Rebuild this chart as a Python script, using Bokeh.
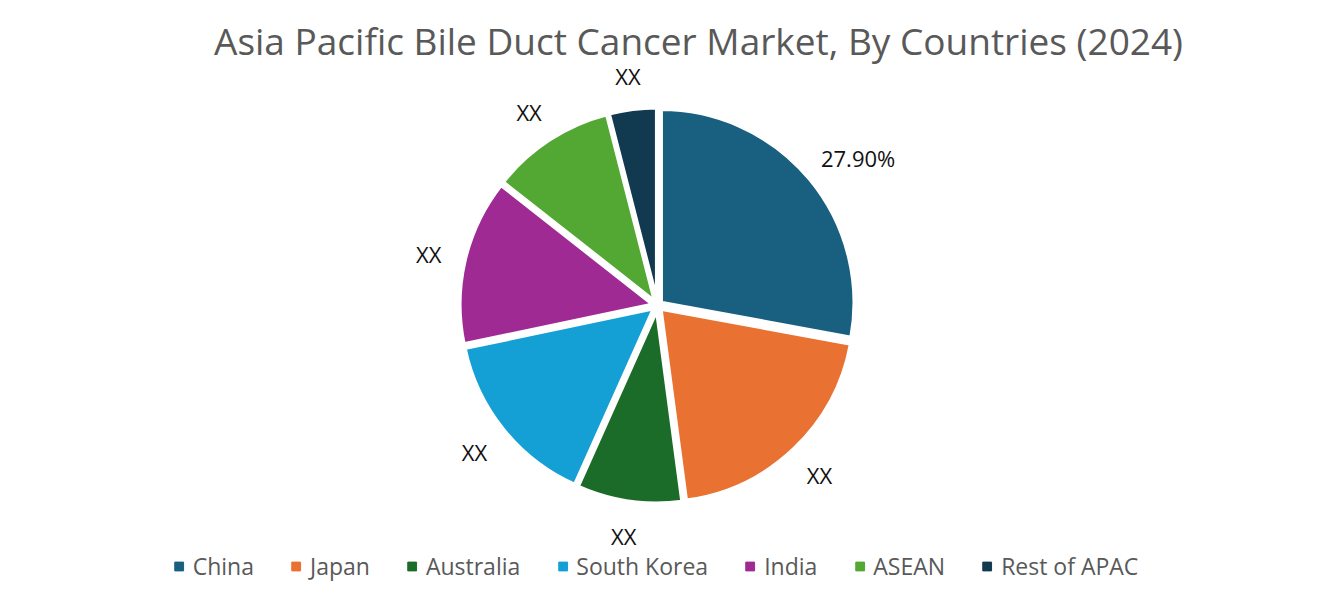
import numpy as np
from bokeh.plotting import figure
from bokeh.models import Legend, LegendItem, ColumnDataSource
from bokeh.core.properties import value
from bokeh.embed import file_html
from bokeh.resources import INLINE

# ---- data ----
title_text = "Asia Pacific Bile Duct Cancer Market, By Countries (2024)"
countries = ["China", "Japan", "Australia", "South Korea", "India", "ASEAN", "Rest of APAC"]
shares = [27.9, 20.0, 8.8, 15.0, 13.9, 10.4, 4.0]
labels = ["27.90%", "XX", "XX", "XX", "XX", "XX", "XX"]
colors = ["#195F80", "#E97132", "#1B6C28", "#149FD5", "#9F2A94", "#53A834", "#113A51"]

FONT = "Open Sans"
W, H = 1306, 584
CX, CY = 657, 279          # pie centre (data units = pixels)
R = 193.5                  # wedge radius
EXPLODE = 4.5
LAB_R = 222

p = figure(width=W, height=H, x_range=(0, W), y_range=(0, H),
           output_backend="svg", toolbar_location=None, min_border=0,
           x_axis_type=None, y_axis_type=None)
p.grid.visible = False
p.outline_line_color = None

vals = np.array(shares, dtype=float)
ang = vals / vals.sum() * 2 * np.pi
ends = np.pi / 2 - np.cumsum(ang)
starts = ends + ang
mid = (starts + ends) / 2

src = ColumnDataSource(dict(
    x=CX + EXPLODE * np.cos(mid),
    y=CY + EXPLODE * np.sin(mid),
    s=ends, e=starts, color=colors,
))
p.wedge(x="x", y="y", radius=R, start_angle="s", end_angle="e", source=src,
        fill_color="color", line_color="white", line_width=4)

# data labels (outside end)
hw = np.array([len(t) * 6.5 for t in labels])
hh = 10
lx = CX + LAB_R * np.cos(mid) + hw * np.cos(mid)
ly = CY + LAB_R * np.sin(mid) + hh * np.sin(mid) - 1
p.text(x=lx, y=ly, text=labels, text_align="center", text_baseline="middle",
       text_font=value(FONT), text_font_size="22px", text_color="#111111")

# title
p.text(x=[698], y=[H - 40], text=[title_text], text_align="center",
       text_baseline="middle", text_font=value(FONT), text_font_size="37px",
       text_color="#595959")

# legend
items = []
for name, c in zip(countries, colors):
    r = p.scatter(x=[-500], y=[-500], marker="square", size=9, fill_color=c, line_color=c)
    items.append(LegendItem(label=name, renderers=[r]))
legend = Legend(items=items, orientation="horizontal", location="bottom_center",
                glyph_width=22, glyph_height=22, label_standoff=3, spacing=31,
                padding=0, margin=2, border_line_color=None,
                background_fill_alpha=0, label_text_font=FONT,
                label_text_font_size="23px", label_text_color="#595959")
p.add_layout(legend, "center")

open("out.html", "w").write(file_html(p, INLINE))
